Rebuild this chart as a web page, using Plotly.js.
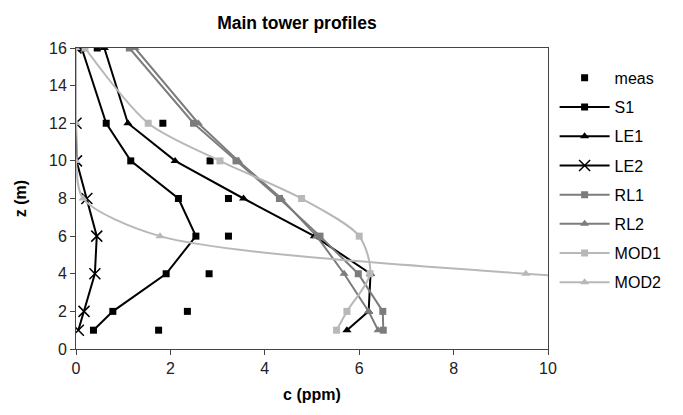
<!DOCTYPE html>
<html>
<head>
<meta charset="utf-8">
<script src="https://cdn.plot.ly/plotly-3.0.1.min.js"></script>
<style>html,body{margin:0;padding:0;background:#fff;}#chart{width:683px;height:415px;}</style>
</head>
<body>
<div id="chart"></div>
<script>
// heights (m)
const zMeas = [1, 2, 4, 6, 8, 10, 12, 16];
const zProf = [1, 2, 4, 6, 8, 10, 12, 16];
// concentrations (ppm)
const meas = [1.75, 2.36, 2.82, 3.23, 3.23, 2.84, 1.84, 0.45];
const S1   = [0.37, 0.78, 1.91, 2.54, 2.17, 1.16, 0.64, 0.12];
const LE1  = [5.74, 6.2, 6.24, 5.05, 3.55, 2.1, 1.1, 0.6];
const LE2  = [0.05, 0.17, 0.40, 0.44, 0.23, 0.01, 0.0, 0.0];
const RL1  = [6.51, 6.5, 5.98, 5.17, 4.31, 3.39, 2.49, 1.13];
const RL2  = [6.4, 6.2, 5.68, 5.1, 4.35, 3.44, 2.59, 1.25];
const MOD1 = [5.52, 5.74, 6.23, 6.0, 4.78, 3.05, 1.53, 0.19];
const MOD2 = [35, 28, 9.53, 1.78, 0.15, 0.0, 0.0, 0.0];
const xTicks = [0, 2, 4, 6, 8, 10];
const yTicks = [0, 2, 4, 6, 8, 10, 12, 14, 16];

const BLACK = '#000000', DARK = '#7c7c7c', LIGHT = '#b8b8b8';
const fontFam = 'Liberation Sans, Arial, sans-serif';

function prof(name, x, color, symbol, shape, msize) {
  return {
    x: x, y: zProf, name: name, type: 'scatter', mode: 'lines+markers',
    line: {color: color, width: 2, shape: shape || 'linear', smoothing: 0.8},
    marker: {color: color, symbol: symbol, size: msize || 7,
             line: {color: color, width: symbol === 'x-thin' ? 1.5 : 0}},
    legendgroup: name, cliponaxis: true
  };
}

const traces = [
  {x: meas, y: zMeas, name: 'meas', type: 'scatter', mode: 'markers',
   marker: {color: BLACK, symbol: 'square', size: 7}, legendgroup: 'meas'},
  prof('S1', S1, BLACK, 'square'),
  prof('LE1', LE1, BLACK, 'triangle-up', 'linear', 8),
  prof('LE2', LE2, BLACK, 'x-thin', 'linear', 11),
  prof('RL1', RL1, DARK, 'square'),
  prof('RL2', RL2, DARK, 'triangle-up', 'linear', 8),
  prof('MOD1', MOD1, LIGHT, 'square', 'spline'),
  prof('MOD2', MOD2, LIGHT, 'triangle-up', 'spline', 8)
];

const layout = {
  width: 683, height: 415,
  margin: {l: 76, r: 135, t: 48, b: 66, pad: 0},
  paper_bgcolor: '#fff', plot_bgcolor: '#fff',
  font: {family: fontFam, size: 16, color: '#000'},
  title: {text: '<b>Main tower profiles</b>', font: {family: fontFam, size: 17.5, color: '#000'},
          x: 0.468, xref: 'paper', xanchor: 'center', y: 0.945, yref: 'container', yanchor: 'middle'},
  xaxis: {range: [0, 10], tickvals: xTicks, ticktext: xTicks.map(String),
          showgrid: false, zeroline: false, showline: true, mirror: true,
          linecolor: '#444', linewidth: 1, ticks: 'outside', ticklen: 5, tickcolor: '#444',
          tickfont: {size: 16, color: '#222'},
          title: {text: '<b>c (ppm)</b>', font: {size: 16, color: '#000'}, standoff: 12}},
  yaxis: {range: [0, 16], tickvals: yTicks, ticktext: yTicks.map(String),
          showgrid: false, zeroline: false, showline: true, mirror: true,
          linecolor: '#444', linewidth: 1, ticks: 'outside', ticklen: 5, tickcolor: '#444',
          tickfont: {size: 16, color: '#222'},
          title: {text: '<b>z (m)</b>', font: {size: 16, color: '#000'}, standoff: 18}},
  showlegend: true,
  legend: {x: 1.014, xanchor: 'left', y: 0.957, yanchor: 'top', traceorder: 'grouped',
           tracegroupgap: 5.4, font: {size: 16, color: '#000'}, bgcolor: 'rgba(0,0,0,0)',
           itemwidth: 50}
};

Plotly.newPlot('chart', traces, layout, {displayModeBar: false, staticPlot: true});
</script>
</body>
</html>
